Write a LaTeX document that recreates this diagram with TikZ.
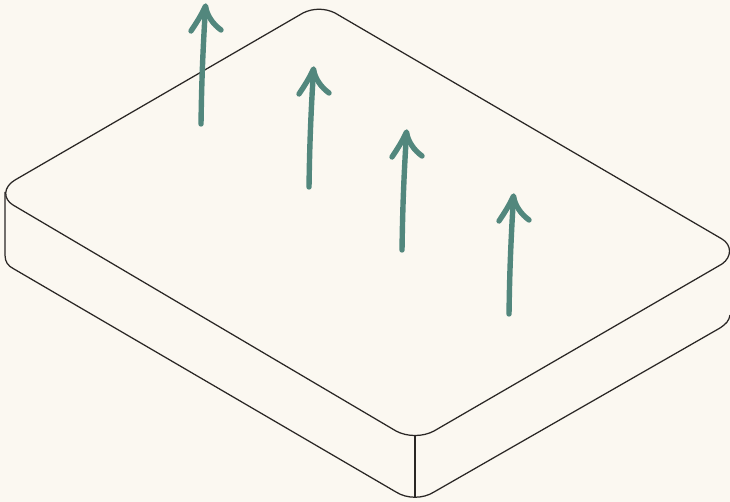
\documentclass[tikz,border=0pt]{standalone}
\usepackage{xcolor}
\usepackage{tikz}
\definecolor{paper}{HTML}{FBF8F1}
\definecolor{ink}{HTML}{2A2725}
\definecolor{arrowgreen}{HTML}{52877D}

\begin{document}
\begin{tikzpicture}[x=1pt,y=-1pt, outline/.style={draw=ink,line width=1.25pt,line join=round}, sketcharrow/.style={draw=arrowgreen,line width=5.4pt,line cap=round,line join=round}]
\useasboundingbox[fill=paper] (0,0) rectangle (730,502);
% top face
\draw[outline] (15,180) -- (303,13) .. controls (313,8) and (325,8) .. (335,13) -- (722,239) .. controls (732,245) and (732,257) .. (722,264) -- (434,431) .. controls (423,437) and (407,437) .. (396,431) -- (13,205) .. controls (3,199) and (3,187) .. (15,180) -- cycle;
% side faces
\draw[outline] (5,192) -- (5,255) .. controls (5,262) and (8,266) .. (14,269) -- (396,492) .. controls (407,499) and (423,499) .. (434,492) -- (720,328) .. controls (726,324) and (729,321) .. (730,315);
\draw[outline] (415,436) -- (415,498);
% arrows, from the foot of each one
\foreach \x/\y in {201/124,309/187,402/250,509/314}{
  \draw[sketcharrow] (\x,\y) .. controls (\x+0.5,\y-30) and (\x+1,\y-60) .. (\x+4.5,\y-117);
  \draw[sketcharrow] (\x-10,\y-93) .. controls (\x-4,\y-102) and (\x+1,\y-110) .. (\x+4.5,\y-118) .. controls (\x+6,\y-108) and (\x+12,\y-100) .. (\x+20,\y-94);
}
\end{tikzpicture}
\end{document}
